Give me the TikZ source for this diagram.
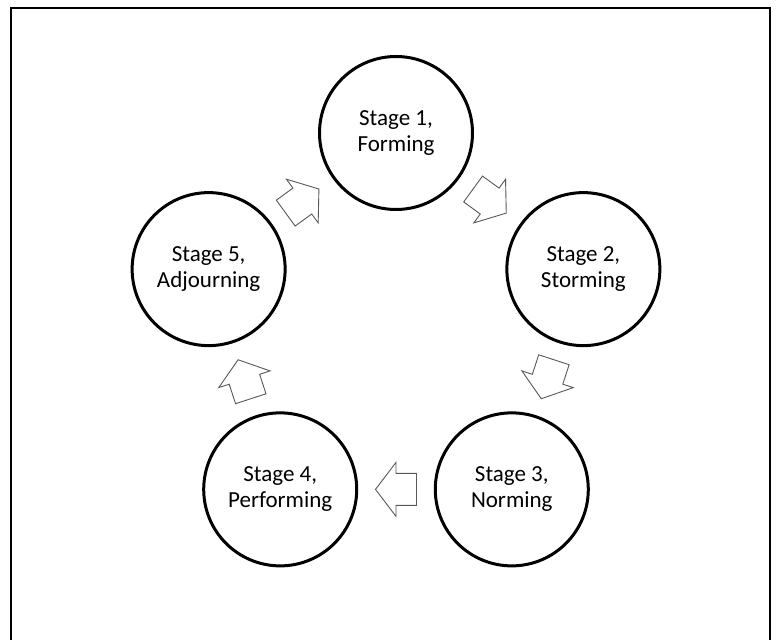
\documentclass[tikz,border=0pt]{standalone}
\usepackage{fontspec}
\setmainfont{Carlito}
\usepackage{tikz}
\usetikzlibrary{calc}

\tikzset{
    turn/.pic={
        \draw[draw=black!65, fill=white, line width=0.9pt, line join=miter]
            (-20.5,16) -- (0,16) -- (0,27) -- (20.5,0) -- (0,-27) -- (0,-16) -- (-20.5,-16) -- cycle;
    }
}

\begin{document}
\begin{tikzpicture}[
    x=1pt, y=1pt,
    stage/.style={circle, draw, line width=3pt, minimum size=153pt, inner sep=0pt, align=center, font=\fontsize{23}{26}\selectfont}
]
    % Page and frame
    \clip (-396,-309) rectangle (382,330);
    \draw[line width=2pt] (-385,-330) -- (-385,322) -- (374,322) -- (374,-330);

    % Stages
    \node[stage] (s1) at (90:197) {Stage 1,\\Forming};
    \node[stage] (s2) at (18:197) {Stage 2,\\Storming};
    \node[stage] (s3) at (-54:197) {Stage 3,\\Norming};
    \node[stage] (s4) at (-126:197) {Stage 4,\\Performing};
    \node[stage] (s5) at (162:197) {Stage 5,\\Adjourning};

    % Block arrows between stages
    \pic[rotate=-36] (a12) at ($(s1)!0.5!(s2)$) {turn};
    \pic[rotate=-108] (a23) at ($(s2)!0.5!(s3)$) {turn};
    \pic[rotate=180] (a34) at ($(s3)!0.5!(s4)$) {turn};
    \pic[rotate=108] (a45) at ($(s4)!0.5!(s5)$) {turn};
    \pic[rotate=36] (a51) at ($(s5)!0.5!(s1)$) {turn};

\end{tikzpicture}
\end{document}
